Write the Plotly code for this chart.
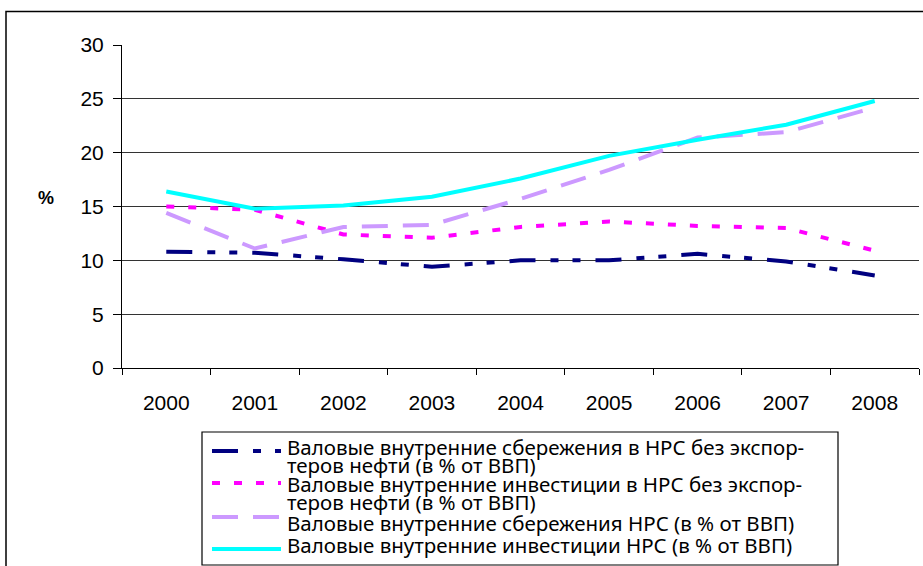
import plotly.graph_objects as go

years = ["2000", "2001", "2002", "2003", "2004", "2005", "2006", "2007", "2008"]
sav_excl_oil = [10.8, 10.7, 10.1, 9.4, 10.0, 10.0, 10.6, 9.9, 8.6]
inv_excl_oil = [15.0, 14.7, 12.4, 12.1, 13.1, 13.6, 13.2, 13.0, 10.9]
sav_nrs = [14.4, 11.1, 13.1, 13.3, 15.7, 18.4, 21.4, 21.9, 24.2]
inv_nrs = [16.4, 14.8, 15.1, 15.9, 17.6, 19.7, 21.2, 22.6, 24.8]

names = [
    ["Валовые внутренние сбережения в НРС без экспор-", "теров нефти (в % от ВВП)"],
    ["Валовые внутренние инвестиции в НРС без экспор-", "теров нефти (в % от ВВП)"],
    ["Валовые внутренние сбережения НРС (в % от ВВП)"],
    ["Валовые внутренние инвестиции НРС (в % от ВВП)"],
]
series = [sav_excl_oil, inv_excl_oil, sav_nrs, inv_nrs]
colors = ["#000080", "#FF00FF", "#CC99FF", "#00FFFF"]
dashes = ["26px,15px,8px,14px,8px,15px", "8px,14px", "26px,15px", "solid"]

W, H = 923, 566
L, R, T, B = 122, 919, 45, 368
SANS = "Liberation Sans, Arial, sans-serif"
LEG_FONT = "Noto Sans"


def px(x):
    return (x - L) / (R - L)


def py(y):
    return (B - y) / (B - T)


fig = go.Figure()
for vals, nm, c, d in zip(series, names, colors, dashes):
    fig.add_trace(go.Scatter(x=years, y=vals, mode="lines", name=" ".join(nm),
                             line=dict(color=c, width=4, dash=d), showlegend=False))

shapes = []
annotations = []
shapes.append(dict(type="rect", xref="paper", yref="paper", x0=px(6), x1=px(935),
                   y0=py(580), y1=py(11.5), line=dict(color="black", width=1.5)))
shapes.append(dict(type="rect", xref="paper", yref="paper", x0=px(202), x1=px(838),
                   y0=py(565), y1=py(432), line=dict(color="black", width=1.2)))
sym_y = [451, 483, 517, 549]
for c, d, yy in zip(colors, dashes, sym_y):
    shapes.append(dict(type="line", xref="paper", yref="paper", x0=px(212), x1=px(281),
                       y0=py(yy), y1=py(yy), line=dict(color=c, width=4, dash=d)))
text_y = [447, 465, 484, 502, 523, 545]
lines = [t for nm in names for t in nm]
for t, yy in zip(lines, text_y):
    annotations.append(dict(text=t, xref="paper", yref="paper", x=px(285), y=py(yy),
                            xanchor="left", yanchor="middle", showarrow=False,
                            font=dict(family=LEG_FONT, size=20.5, color="black")))
annotations.append(dict(text="<b>%</b>", xref="paper", yref="paper", x=px(46), y=py(198),
                        xanchor="center", yanchor="middle", showarrow=False,
                        font=dict(family=SANS, size=18, color="black")))

fig.update_layout(
    width=W, height=H,
    margin=dict(l=L, r=W - R, t=T, b=H - B),
    paper_bgcolor="white", plot_bgcolor="white",
    shapes=shapes, annotations=annotations,
    font=dict(family=SANS, size=21, color="black"),
    xaxis=dict(type="category", range=[-0.5, 8.5], tickson="boundaries",
               ticks="outside", ticklen=6, tickcolor="black", showgrid=False,
               showline=True, linecolor="black", linewidth=1, ticklabelstandoff=16,
               tickfont=dict(size=21)),
    yaxis=dict(range=[0, 30], dtick=5, ticks="outside", ticklen=8, tickcolor="black",
               showline=True, linecolor="black", linewidth=1,
               showgrid=True, gridcolor="#333333", gridwidth=1,
               zeroline=False, ticklabelstandoff=5, tickfont=dict(size=21)),
)
fig.write_html("out.html", config={"displayModeBar": False},
               post_script="document.body.style.margin='0';")
